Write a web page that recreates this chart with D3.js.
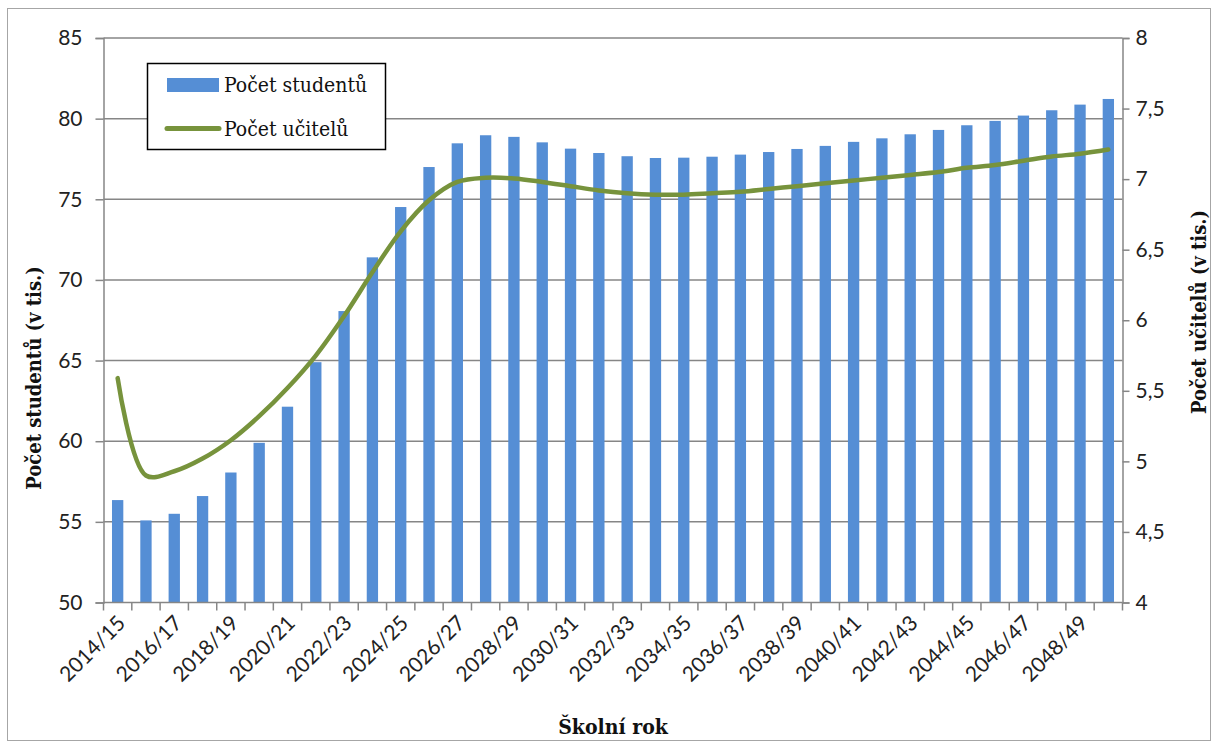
<!DOCTYPE html>
<html>
<head>
    <meta charset="utf-8">
    <style>
        body { margin: 0; background: #fff; }
        svg { display: block; }
        .tick text { font-family: Lato, 'Open Sans', sans-serif; fill: #222; }
        .title { font-family: 'DejaVu Serif Condensed', 'DejaVu Serif', serif; font-weight: bold; fill: #111; }
        .legend text { font-family: 'DejaVu Serif Condensed', 'DejaVu Serif', serif; fill: #111; }
    </style>
    <title>Počet studentů a učitelů</title>
</head>
<body>
    <svg width="1218" height="742"></svg>

<script src="https://d3js.org/d3.v7.min.js"></script>
<script>
    // školní roky
    let years = ['2014/15', '2015/16', '2016/17', '2017/18', '2018/19', '2019/20', '2020/21', '2021/22',
        '2022/23', '2023/24', '2024/25', '2025/26', '2026/27', '2027/28', '2028/29', '2029/30',
        '2030/31', '2031/32', '2032/33', '2033/34', '2034/35', '2035/36', '2036/37', '2037/38',
        '2038/39', '2039/40', '2040/41', '2041/42', '2042/43', '2043/44', '2044/45', '2045/46',
        '2046/47', '2047/48', '2048/49', '2049/50']

    // počet studentů (v tis.)
    let students = [56.35, 55.09, 55.5, 56.6, 58.06, 59.9, 62.14, 64.9, 68.07, 71.4, 74.52, 77.0,
        78.47, 78.97, 78.87, 78.53, 78.14, 77.87, 77.67, 77.56, 77.58, 77.64, 77.77, 77.93,
        78.12, 78.31, 78.56, 78.78, 79.03, 79.3, 79.59, 79.86, 80.19, 80.52, 80.87, 81.22]

    // počet učitelů (v tis.)
    let teachers = [5.59, 4.90, 4.93, 5.02, 5.15, 5.32, 5.52, 5.75, 6.03, 6.34, 6.63, 6.85,
        6.98, 7.01, 7.005, 6.98, 6.95, 6.92, 6.90, 6.89, 6.89, 6.90, 6.91, 6.93,
        6.95, 6.97, 6.99, 7.01, 7.03, 7.05, 7.08, 7.10, 7.13, 7.16, 7.18, 7.21]

    let leftTicks = [50, 55, 60, 65, 70, 75, 80, 85]
    let rightTicks = [4, 4.5, 5, 5.5, 6, 6.5, 7, 7.5, 8]

    let svg = d3.select('svg')
    let plotLeft = 103.5, plotRight = 1122.5, plotTop = 38, plotBottom = 602.5
    let blue = '#558ed5', green = '#77933c', grey = '#868686'

    // rámeček grafu
    svg.append('rect')
        .attr('x', 7.5).attr('y', 8.5)
        .attr('width', 1203).attr('height', 732)
        .attr('fill', 'none')
        .attr('stroke', '#a6a6a6')

    let x = d3.scaleBand()
        .domain(years)
        .range([plotLeft, plotRight])
        .paddingInner(0.6)
        .paddingOuter(0.3)

    let yL = d3.scaleLinear().domain([50, 85]).range([plotBottom, plotTop])
    let yR = d3.scaleLinear().domain([4, 8]).range([plotBottom, plotTop])

    // mřížka
    svg.append('g')
        .selectAll('line')
        .data(leftTicks.slice(1))
        .join('line')
        .attr('x1', plotLeft).attr('x2', plotRight)
        .attr('y1', d => yL(d)).attr('y2', d => yL(d))
        .attr('stroke', grey)
        .attr('stroke-width', 1.5)

    // sloupce
    svg.append('g')
        .selectAll('rect')
        .data(years)
        .join('rect')
        .attr('x', d => x(d))
        .attr('width', x.bandwidth())
        .attr('y', (d, i) => yL(students[i]))
        .attr('height', (d, i) => yL(50) - yL(students[i]))
        .attr('fill', blue)

    // levá osa
    let axL = svg.append('g')
        .attr('transform', `translate(${plotLeft},0)`)
        .call(d3.axisLeft(yL).tickValues(leftTicks).tickSize(8).tickPadding(13))
    axL.selectAll('.tick text').style('font-size', '21px')

    // pravá osa
    let axR = svg.append('g')
        .attr('transform', `translate(${plotRight},0)`)
        .call(d3.axisRight(yR).tickValues(rightTicks).tickSize(7).tickPadding(6)
            .tickFormat(d => String(d).replace('.', ',')))
    axR.selectAll('.tick text').style('font-size', '21px')

    // spodní osa
    let axB = svg.append('g')
        .attr('transform', `translate(0,${plotBottom})`)
    axB.append('line')
        .attr('x1', plotLeft).attr('x2', plotRight)
        .attr('stroke', grey).attr('stroke-width', 1.5)
    let bounds = years.map(d => x(d) - x.step() * 0.3).concat([plotRight])
    axB.selectAll('.btick')
        .data(bounds)
        .join('line')
        .attr('class', 'btick')
        .attr('x1', d => d).attr('x2', d => d)
        .attr('y1', 0).attr('y2', 8)
        .attr('stroke', grey).attr('stroke-width', 1.5)
    axB.selectAll('.lab')
        .data(years.filter((d, i) => i % 2 == 0))
        .join('text')
        .attr('class', 'lab')
        .attr('transform', d => `translate(${x(d) + x.bandwidth() / 2 + 9},${22}) rotate(-45)`)
        .attr('text-anchor', 'end')
        .style('font-family', "Lato, 'Open Sans', sans-serif")
        .style('font-size', '21px')
        .attr('fill', '#222')
        .text(d => d)

    svg.selectAll('.domain, .tick line').attr('stroke', grey).attr('stroke-width', 1.5)

    // čára učitelů
    let line = d3.line()
        .x((d, i) => x(years[i]) + x.bandwidth() / 2)
        .y(d => yR(d))
        .curve(d3.curveCatmullRom.alpha(0.5))

    svg.append('path')
        .datum(teachers)
        .attr('d', line)
        .attr('fill', 'none')
        .attr('stroke', green)
        .attr('stroke-width', 4.5)
        .attr('stroke-linecap', 'round')

    // názvy os
    svg.append('text')
        .attr('class', 'title')
        .attr('x', (plotLeft + plotRight) / 2).attr('y', 734)
        .attr('text-anchor', 'middle')
        .style('font-size', '21px')
        .text('Školní rok')

    svg.append('text')
        .attr('class', 'title')
        .attr('transform', 'translate(41,378) rotate(-90)')
        .attr('text-anchor', 'middle')
        .style('font-size', '20px')
        .text('Počet studentů (v tis.)')

    svg.append('text')
        .attr('class', 'title')
        .attr('transform', 'translate(1206,312) rotate(-90)')
        .attr('text-anchor', 'middle')
        .style('font-size', '20px')
        .text('Počet učitelů (v tis.)')

    // legenda
    let legend = svg.append('g').attr('class', 'legend')
    legend.append('rect')
        .attr('x', 147.5).attr('y', 63.5)
        .attr('width', 238).attr('height', 86)
        .attr('fill', '#fff')
        .attr('stroke', '#000')
        .attr('stroke-width', 1.5)
    legend.append('rect')
        .attr('x', 167).attr('y', 78)
        .attr('width', 52).attr('height', 14)
        .attr('fill', blue)
    legend.append('line')
        .attr('x1', 167).attr('x2', 219)
        .attr('y1', 128.5).attr('y2', 128.5)
        .attr('stroke', green)
        .attr('stroke-width', 5)
        .attr('stroke-linecap', 'round')
    legend.append('text')
        .attr('x', 224).attr('y', 92)
        .style('font-size', '21px')
        .text('Počet studentů')
    legend.append('text')
        .attr('x', 224).attr('y', 136)
        .style('font-size', '21px')
        .text('Počet učitelů')
</script>
</body>
</html>
